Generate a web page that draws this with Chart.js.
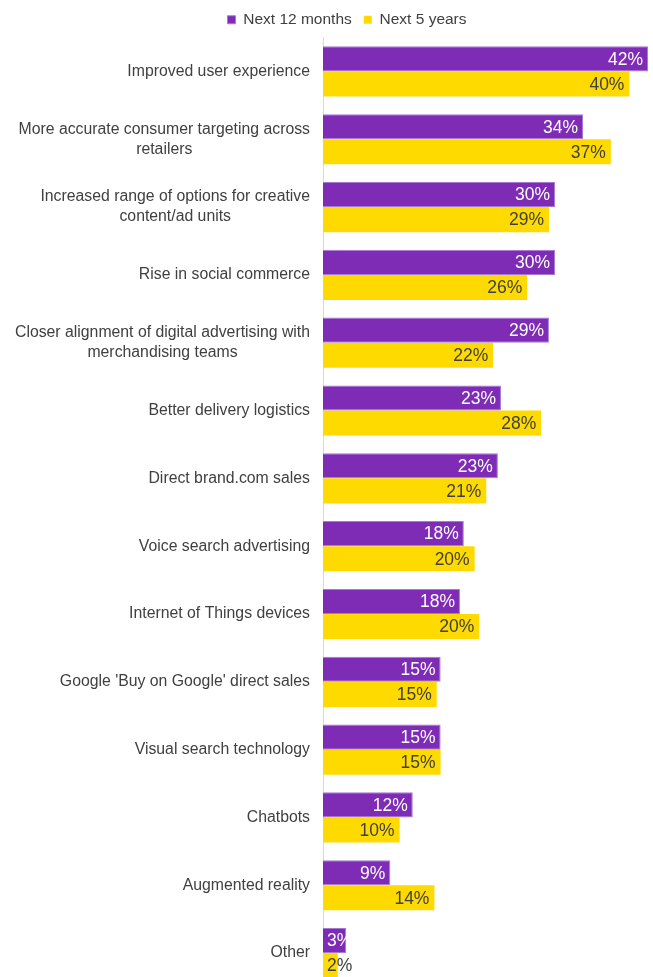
<!DOCTYPE html>
<html>
<head>
<meta charset="utf-8">
<script src="https://cdn.jsdelivr.net/npm/chart.js@4/dist/chart.umd.min.js"></script>
<style>
  html, body { margin: 0; padding: 0; background: #fff; overflow: hidden; }
  #wrap { width: 653px; height: 990px; position: relative; }
</style>
</head>
<body>
<div id="wrap"><canvas id="grafico"></canvas></div>
<script>
const categorias = [
  ["Improved user experience"],
  ["More accurate consumer targeting across", "retailers"],
  ["Increased range of options for creative", "content/ad units"],
  ["Rise in social commerce"],
  ["Closer alignment of digital advertising with", "merchandising teams"],
  ["Better delivery logistics"],
  ["Direct brand.com sales"],
  ["Voice search advertising"],
  ["Internet of Things devices"],
  ["Google 'Buy on Google' direct sales"],
  ["Visual search technology"],
  ["Chatbots"],
  ["Augmented reality"],
  ["Other"]
];
const prox12Meses = [42, 33.6, 30.0, 30.0, 29.2, 23.0, 22.6, 18.2, 17.7, 15.2, 15.2, 11.6, 8.7, 3.0];
const prox5Anos   = [39.6, 37.2, 29.2, 26.4, 22.0, 28.2, 21.1, 19.6, 20.2, 14.7, 15.2, 9.9, 14.4, 1.9];
const nomesSeries = ["Next 12 months", "Next 5 years"];

const roxo = "#7E2BB6";
const amarelo = "#FFDA00";
const cinzaTexto = "#404040";
const fonte = "'Liberation Sans', Arial, sans-serif";

// rotulos das categorias: bloco alinhado a direita, linhas centralizadas
const rotulosCategorias = {
  id: "rotulosCategorias",
  afterDraw(chart) {
    const ctx = chart.ctx;
    const y = chart.scales.y;
    const direita = y.right - 13;
    ctx.save();
    ctx.font = "15.8px " + fonte;
    ctx.fillStyle = cinzaTexto;
    ctx.textAlign = "center";
    ctx.textBaseline = "middle";
    categorias.forEach((linhas, i) => {
      const centro = y.getPixelForValue(i);
      const largura = Math.max(...linhas.map(l => ctx.measureText(l).width));
      const x = direita - largura / 2;
      const alt = 20;
      linhas.forEach((l, j) => {
        ctx.fillText(l, x, centro + (j - (linhas.length - 1) / 2) * alt);
      });
    });
    ctx.restore();
  }
};

// valores no fim de cada barra
const rotulosValores = {
  id: "rotulosValores",
  afterDatasetsDraw(chart) {
    const ctx = chart.ctx;
    ctx.save();
    ctx.font = "17.5px " + fonte;
    ctx.textBaseline = "middle";
    ctx.textAlign = "left";
    chart.data.datasets.forEach((ds, di) => {
      const meta = chart.getDatasetMeta(di);
      meta.data.forEach((bar, i) => {
        const txt = Math.round(ds.data[i]) + "%";
        const w = ctx.measureText(txt).width;
        let x = bar.x - 5 - w;
        if (x < bar.base + 4) x = bar.base + 4;
        ctx.fillStyle = di === 0 ? "#ffffff" : cinzaTexto;
        ctx.fillText(txt, x, bar.y + 1);
      });
    });
    ctx.restore();
  }
};

new Chart(document.getElementById("grafico"), {
  type: "bar",
  data: {
    labels: categorias,
    datasets: [
      { label: nomesSeries[0], data: prox12Meses, backgroundColor: roxo, borderColor: "#A57AD4", borderWidth: 1, borderSkipped: "start" },
      { label: nomesSeries[1], data: prox5Anos, backgroundColor: amarelo, borderWidth: 0 }
    ]
  },
  options: {
    indexAxis: "y",
    responsive: true,
    maintainAspectRatio: false,
    animation: false,
    categoryPercentage: 0.74,
    barPercentage: 1.0,
    layout: { padding: { left: 46, right: 5, top: 0, bottom: 3 } },
    plugins: {
      legend: {
        position: "top",
        labels: {
          boxWidth: 8, boxHeight: 8, padding: 12,
          color: cinzaTexto,
          font: { family: fonte, size: 15.5 }
        }
      },
      tooltip: { enabled: false }
    },
    scales: {
      x: { display: false, min: 0, max: 42 },
      y: {
        ticks: { display: false },
        grid: { display: false },
        border: { display: true, color: "#D9D9D9", width: 1 },
        afterFit(scale) { scale.width = 277; }
      }
    }
  },
  plugins: [rotulosCategorias, rotulosValores]
});
</script>
</body>
</html>
